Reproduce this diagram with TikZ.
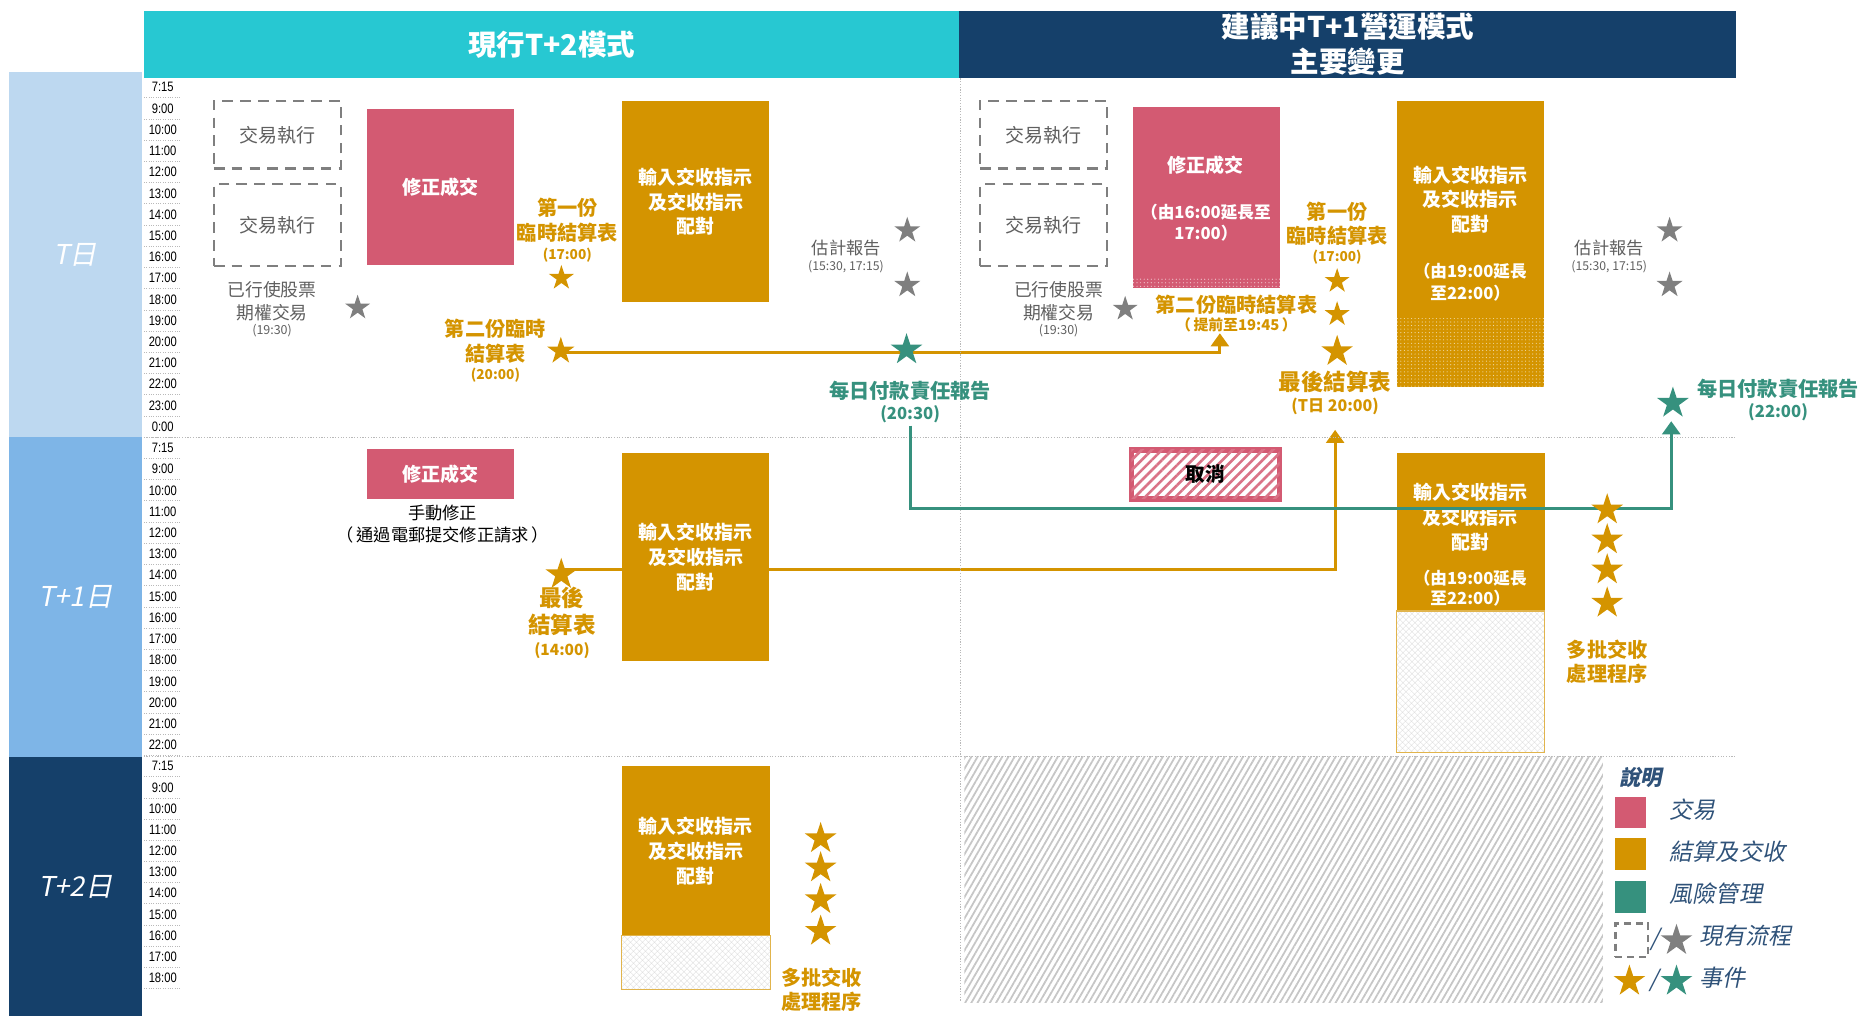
\documentclass[tikz,border=0pt]{standalone}
\usepackage{fontspec}
\setmainfont{Noto Sans CJK TC}
\newfontfamily\slantfont[FakeSlant=0.2]{Noto Sans CJK TC}
\newfontfamily\narrowfont[FakeStretch=0.82]{Liberation Sans}
\usetikzlibrary{shapes.geometric,arrows.meta,patterns,patterns.meta}
\pgfdeclarelayer{bg}
\pgfsetlayers{bg,main}
\definecolor{hcyan}{HTML}{27C8D2}
\definecolor{hnavy}{HTML}{15406A}
\definecolor{dayT}{HTML}{BDD8F0}
\definecolor{dayTa}{HTML}{7EB5E7}
\definecolor{cpink}{HTML}{D35A72}
\definecolor{corange}{HTML}{D49400}
\definecolor{cgreen}{HTML}{36917E}
\definecolor{cgray}{HTML}{7F7F7F}
\definecolor{tgray}{HTML}{5F5F5F}
\definecolor{lnavy}{HTML}{2F5279}
\newcommand\myfs[2]{\fontsize{#1pt}{#2pt}\selectfont}
\tikzset{
 lbl/.style={inner sep=0pt, align=center},
 hdbox/.style={minimum height=56.5pt, inner sep=0pt, text=white, align=center, font=\myfs{24}{29.6}\bfseries},
 daybox/.style={minimum width=112.2pt, inner sep=0pt, text=white, font=\slantfont\myfs{23}{23}},
 tlab/.style={inner sep=0pt, font=\narrowfont\myfs{11.5}{11.5}},
 tsep/.style={draw=gray!55, line width=0.8pt, dash pattern=on 0.8pt off 1.2pt},
 dotln/.style={draw=gray!55, line width=1pt, dash pattern=on 1pt off 1.3pt},
 dbox/.style={draw=cgray, line width=2.2pt, dash pattern=on 9pt off 6pt, inner sep=0pt, minimum width=107pt, text=tgray, font=\myfs{16}{16}},
 pbox/.style={fill=cpink, inner sep=0pt, text=white, font=\myfs{16}{16}\bfseries},
 obox/.style={fill=corange, inner sep=0pt, text=white, align=center, font=\myfs{16}{21}\bfseries},
 wtxt/.style={lbl, text=white, font=\myfs{16}{21}\bfseries},
 otxt/.style={lbl, text=corange},
 gtxt/.style={lbl, text=cgreen},
 ytxt/.style={lbl, text=tgray},
 oline/.style={draw=corange, line width=2.6pt},
 gline/.style={draw=cgreen, line width=2.6pt},
 arrowend/.style={-{Triangle[width=15pt,length=11pt]}},
 starbase/.style={star, star points=5, star point ratio=2.618, inner sep=0pt, outer sep=0pt, minimum size=#1},
 ostar/.style={starbase=#1, fill=corange},
 gstar/.style={starbase=#1, fill=cgreen},
 ystar/.style={starbase=#1, fill=cgray},
 dotfill/.style={pattern=dots, pattern color=#1},
 xhatch/.style={pattern={Lines[angle=#1,distance=4pt,line width=0.4pt]}, pattern color=gray!40},
 lgd/.style={inner sep=0pt, anchor=west, text=lnavy, font=\slantfont\myfs{19.5}{19.5}},
}
\begin{document}
\begin{tikzpicture}[x=1pt,y=-1pt]
\useasboundingbox (0,0) rectangle (1568,856);
% headers
\node[hdbox, fill=hcyan, minimum width=686.5pt] (hdL) at (464.25,37.25) {現行T+2模式};
\node[hdbox, fill=hnavy, minimum width=654pt] (hdR) at (1134.5,37.25) {建議中T+1營運模式\\主要變更};
% day panels
\node[daybox, fill=dayT, minimum height=307pt] (dT) at (63.4,214.5) {T日};
\node[daybox, fill=dayTa, minimum height=269pt] (dT1) at (63.4,502.5) {T+1日};
\node[daybox, fill=hnavy, minimum height=218.5pt] (dT2) at (63.4,746.25) {T+2日};
% hatched area
\fill[pattern={Lines[angle=60,distance=4.5pt,line width=1.5pt]}, pattern color=gray!45] (811.7,636.5) rectangle (1349,843.5);
% dotted lines
\draw[dotln] (121,368) -- (1461,368);
\draw[dotln] (121,636.5) -- (1461,636.5);
\draw[dotln] (808.5,66) -- (808.5,843);
% time labels
\foreach \t [count=\i from 0] in {7:15,9:00,10:00,11:00,12:00,13:00,14:00,15:00,16:00,17:00,18:00,19:00,20:00,21:00,22:00,23:00,0:00}{
  \node[tlab] (tA\i) at (137,{73.5+\i*17.85}) {\t};
  \draw[tsep] (121,{82.4+\i*17.85}) -- (152,{82.4+\i*17.85});
}
\foreach \t [count=\i from 0] in {7:15,9:00,10:00,11:00,12:00,13:00,14:00,15:00,16:00,17:00,18:00,19:00,20:00,21:00,22:00}{
  \node[tlab] (tB\i) at (137,{377+\i*17.86}) {\t};
  \draw[tsep] (121,{385.9+\i*17.86}) -- (152,{385.9+\i*17.86});
}
\foreach \t [count=\i from 0] in {7:15,9:00,10:00,11:00,12:00,13:00,14:00,15:00,16:00,17:00,18:00}{
  \node[tlab] (tC\i) at (137,{645+\i*17.8}) {\t};
  \draw[tsep] (121,{653.9+\i*17.8}) -- (152,{653.9+\i*17.8});
}
% dashed boxes
\node[dbox, minimum height=57pt] (d1) at (233.5,113.5) {交易執行};
\node[dbox, minimum height=69pt] (d2) at (233.5,189.5) {交易執行};
\node[dbox, minimum height=57pt] (d3) at (878.25,113.5) {交易執行};
\node[dbox, minimum height=69pt] (d4) at (878.25,189.5) {交易執行};
% pink boxes
\node[pbox, minimum width=123.5pt, minimum height=131.5pt] (p1) at (370.75,157.25) {修正成交};
\node[pbox, minimum width=123.5pt, minimum height=42pt] (p2) at (370.75,399) {修正成交};
\node[pbox, minimum width=124.1pt, minimum height=152.8pt] (p3) at (1015.25,166.2) {};
\fill[dotfill=white!70!cpink] (953.2,234.2) rectangle (1077.3,242.6);
\node[wtxt] (p3a) at (1015,138.8) {修正成交};
\node[lbl, text=white, font=\myfs{14}{17.4}\bfseries] (p3b) at (1015,187.6) {（由16:00延長至\\17:00）};
\node[draw=cpink, line width=4.5pt, fill=white, postaction={pattern={Lines[angle=45,distance=6pt,line width=2.2pt]}, pattern color=cpink!85}, minimum width=124.8pt, minimum height=41.3pt, inner sep=0pt, font=\myfs{16.5}{16.5}\bfseries] (cx) at (1014.65,399.3) {取消};
% orange boxes
\node[obox, minimum width=124.1pt, minimum height=169.4pt] (o1) at (585.45,169.7) {輸入交收指示\\及交收指示\\配對};
\node[obox, minimum width=124.1pt, minimum height=174.7pt] (o2) at (585.45,468.85) {輸入交收指示\\及交收指示\\配對};
\node[obox, minimum width=125pt, minimum height=142.8pt] (o3) at (585.7,716) {輸入交收指示\\及交收指示\\配對};
\fill[white] (523.2,787.4) rectangle (648.2,833);
\fill[xhatch=45] (523.2,787.4) rectangle (648.2,833);
\fill[xhatch=-45] (523.2,787.4) rectangle (648.2,833);
\draw[corange!70, line width=1pt] (523.2,787.4) rectangle (648.2,833);
\node[obox, minimum width=123.9pt, minimum height=241pt] (o4) at (1237.55,205.5) {};
\fill[dotfill=white!65!corange] (1175.6,268) rectangle (1299.5,326);
\node[wtxt] (o4a) at (1237.4,168) {輸入交收指示\\及交收指示\\配對};
\node[lbl, text=white, font=\myfs{14}{18.4}\bfseries] (o4b) at (1237.4,237.8) {（由19:00延長\\至22:00）};
\node[obox, minimum width=124.4pt, minimum height=132.7pt] (o5) at (1237.8,447.85) {};
\fill[white] (1175.6,514.2) rectangle (1300,633.4);
\fill[xhatch=45] (1175.6,514.2) rectangle (1300,633.4);
\fill[xhatch=-45] (1175.6,514.2) rectangle (1300,633.4);
\draw[corange!70, line width=1pt] (1175.6,514.2) rectangle (1300,633.4);
\node[wtxt] (o5a) at (1237.4,434.9) {輸入交收指示\\及交收指示\\配對};
\node[lbl, text=white, font=\myfs{14}{17.3}\bfseries] (o5b) at (1237.4,494.9) {（由19:00延長\\至22:00）};
% gray labels
\node[ytxt, font=\myfs{15}{19}] (ex1) at (229,253.5) {已行使股票\\期權交易};
\node[ytxt, font=\myfs{10.5}{10.5}] (ex1t) at (229,278) {(19:30)};
\node[ytxt, font=\myfs{15}{19}] (ex2) at (891,253.5) {已行使股票\\期權交易};
\node[ytxt, font=\myfs{10.5}{10.5}] (ex2t) at (891,278) {(19:30)};
\node[ytxt, font=\myfs{14.5}{14.5}] (es1) at (712.3,209) {估計報告};
\node[ytxt, font=\myfs{10.3}{10.3}] (es1t) at (712,224.4) {(15:30, 17:15)};
\node[ytxt, font=\myfs{14.5}{14.5}] (es2) at (1354.4,209) {估計報告};
\node[ytxt, font=\myfs{10.3}{10.3}] (es2t) at (1354.4,224.4) {(15:30, 17:15)};
% orange labels
\node[otxt, font=\myfs{17}{20.5}\bfseries] (f1) at (477.5,185.25) {第一份\\臨時結算表};
\node[otxt, font=\myfs{11.5}{11.5}\bfseries] (f1t) at (477.5,214.6) {(17:00)};
\node[otxt, font=\myfs{17}{20}\bfseries] (f2) at (1125.4,188) {第一份\\臨時結算表};
\node[otxt, font=\myfs{11.5}{11.5}\bfseries] (f2t) at (1125.4,216.8) {(17:00)};
\node[otxt, font=\myfs{17}{21}\bfseries] (s2) at (417,287.5) {第二份臨時\\結算表};
\node[otxt, font=\myfs{11.5}{11.5}\bfseries] (s2t) at (417,316) {(20:00)};
\node[otxt, font=\myfs{17}{17}\bfseries] (s3) at (1040.7,256.6) {第二份臨時結算表};
\node[otxt, font=\myfs{12.5}{12.5}\bfseries] (s3t) at (1040.7,273.5) {（\,提前至19:45\,）};
\node[otxt, font=\myfs{19}{19}\bfseries] (fin2) at (1123.7,321) {最後結算表};
\node[otxt, font=\myfs{13.5}{13.5}\bfseries] (fin2t) at (1123.7,342) {(T日 20:00)};
\node[otxt, font=\myfs{19}{23}\bfseries] (fin1) at (473,514.5) {最後\\結算表};
\node[otxt, font=\myfs{13}{13}\bfseries] (fin1t) at (473,547.5) {(14:00)};
\node[otxt, font=\myfs{17}{20.4}\bfseries] (mb1) at (1352.7,557.2) {多批交收\\處理程序};
\node[otxt, font=\myfs{17}{20.2}\bfseries] (mb2) at (691.6,832.8) {多批交收\\處理程序};
% green labels
\node[gtxt, font=\myfs{17}{17}\bfseries] (rp1) at (766,328.8) {每日付款責任報告};
\node[gtxt, font=\myfs{14}{14}\bfseries] (rp1t) at (766,348.7) {(20:30)};
\node[gtxt, font=\myfs{17}{17}\bfseries] (rp2) at (1496.5,327.6) {每日付款責任報告};
\node[gtxt, font=\myfs{14}{14}\bfseries] (rp2t) at (1496.5,347) {(22:00)};
% black labels
\node[lbl, font=\myfs{14.5}{14.5}] (mn1) at (372.6,431.4) {手動修正};
\node[lbl, font=\myfs{14.5}{14.5}] (mn2) at (372.6,450.5) {（\,通過電郵提交修正請求\,）};
% stars (gray)
\node[ystar=22pt] (g1) at (301,259) {};
\node[ystar=22pt] (g2) at (947,260) {};
\node[ystar=23pt] (g3) at (763.6,194) {};
\node[ystar=23pt] (g4) at (763.6,240) {};
\node[ystar=23pt] (g5) at (1405.2,194) {};
\node[ystar=23pt] (g6) at (1405.2,240) {};
% stars (orange, on connectors)
\node[ostar=22pt] (a1) at (472.5,234) {};
\node[ostar=24pt] (a2) at (472,295.5) {};
\node[ostar=28pt] (a3) at (472.4,483.5) {};
\node[ostar=22pt] (b1) at (1125.4,236.6) {};
\node[ostar=22pt] (b2) at (1125.4,264.5) {};
\node[ostar=28pt] (b3) at (1125.4,295.8) {};
% connectors
\coordinate (tipB) at (1026.7,280.5);
\coordinate (tipA) at (1123.7,361.8);
\coordinate (gMid) at (1406.6,427.8);
\coordinate (gTip) at (1406.6,354.5);
\begin{pgfonlayer}{bg}
\draw[oline, arrowend] ([yshift=-1pt]a2.center) -| (tipB);
\draw[oline, arrowend] ([yshift=3.8pt]a3.center) -| (tipA);
\end{pgfonlayer}
\draw[gline, arrowend, shorten <=2pt] (rp1t.south) |- (gMid) -- (gTip);
% green stars
\node[gstar=28pt] (gs1) at (763,294.4) {};
\node[gstar=28pt] (gs2) at (1408,339.3) {};
% multi-batch stars
\foreach \y [count=\k] in {429.1,454.3,479.6,507.6}{
  \node[ostar=28pt] (m\k) at (1352.7,\y) {};
}
\foreach \y [count=\k] in {705.8,730.4,757.1,783.7}{
  \node[ostar=28pt] (n\k) at (690.7,\y) {};
}
% legend
\node[lbl, text=lnavy, font=\slantfont\myfs{18}{18}\bfseries] (lg0) at (1381,654) {說明};
\node[fill=cpink, minimum width=25.8pt, minimum height=26.6pt, inner sep=0pt] (lp) at (1372.4,683.7) {};
\node[fill=corange, minimum width=25.8pt, minimum height=27.2pt, inner sep=0pt] (lo) at (1372.4,719) {};
\node[fill=cgreen, minimum width=25.8pt, minimum height=26.7pt, inner sep=0pt] (lgr) at (1372.4,755.15) {};
\node[lgd] (lt1) at (1405,681.4) {交易};
\node[lgd] (lt2) at (1405,717) {結算及交收};
\node[lgd] (lt3) at (1405,752.3) {風險管理};
\node[draw=cgray, line width=2.2pt, dash pattern=on 6pt off 4pt, minimum width=27.5pt, minimum height=28.1pt, inner sep=0pt] (ld) at (1373.25,791.45) {};
\node[lgd, anchor=center] (ls1) at (1393,791) {/};
\node[ystar=28pt] (lgs) at (1411,791.5) {};
\node[lgd] (lt4) at (1430,788) {現有流程};
\node[ostar=28pt] (los) at (1371.4,825.8) {};
\node[lgd, anchor=center] (ls2) at (1392,825) {/};
\node[gstar=28pt] (lgs2) at (1411,825.8) {};
\node[lgd] (lt5) at (1430,822.7) {事件};
\end{tikzpicture}
\end{document}
